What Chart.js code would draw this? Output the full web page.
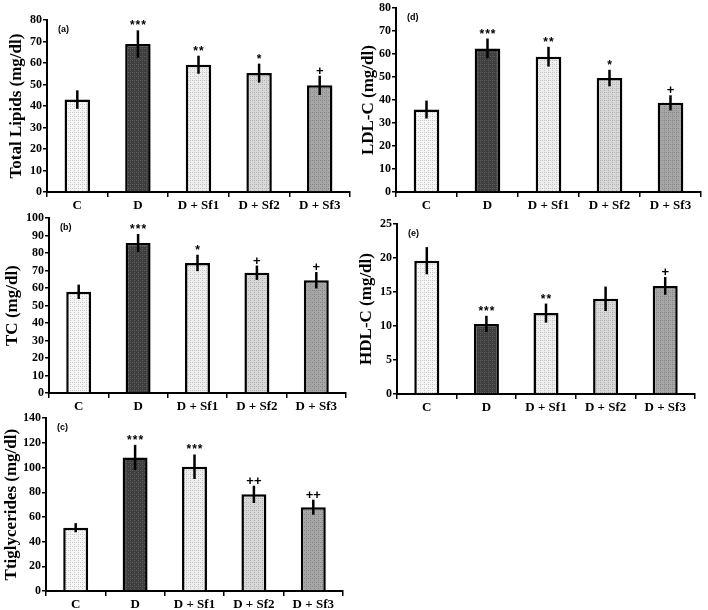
<!DOCTYPE html>
<html>
<head>
<meta charset="utf-8">
<script src="https://cdn.jsdelivr.net/npm/chart.js@4.4.1/dist/chart.umd.min.js"></script>
<style>
  html, body { margin: 0; padding: 0; background: #ffffff; }
  #wrap { position: relative; width: 708px; height: 610px; background: #ffffff; overflow: hidden; }
  canvas { position: absolute; }
</style>
</head>
<body>
<div id="wrap">
  <canvas id="pa"></canvas>
  <canvas id="pb"></canvas>
  <canvas id="pc"></canvas>
  <canvas id="pd"></canvas>
  <canvas id="pe"></canvas>
</div>
<script>
// ---------------- DATA ----------------
const categories = ['C', 'D', 'D + Sf1', 'D + Sf2', 'D + Sf3'];

const totalLipids      = [43, 68.8, 59.2, 55.3, 49.6];
const totalLipidsErr   = [4.3, 6.4, 4.2, 4.4, 4.5];
const totalLipidsSig   = ['', '***', '**', '*', '+'];

const tc               = [57.9, 85.8, 74.4, 68.8, 64.5];
const tcErr            = [4.1, 5.2, 4.7, 4.1, 4.7];
const tcSig            = ['', '***', '*', '+', '+'];

const triglycerides    = [51.3, 108.2, 100.7, 78.3, 67.9];
const triglyceridesErr = [3.7, 10.2, 9.9, 7.0, 6.1];
const triglyceridesSig = ['', '***', '***', '++', '++'];

const ldl              = [35.9, 62.5, 58.9, 49.6, 38.8];
const ldlErr           = [3.9, 4.3, 4.3, 3.6, 3.3];
const ldlSig           = ['', '***', '**', '*', '+'];

const hdl              = [19.6, 10.3, 11.9, 14.0, 15.9];
const hdlErr           = [2.0, 1.2, 1.4, 1.8, 1.3];
const hdlSig           = ['', '***', '**', '', '+'];

const yTitles  = ['Total Lipids (mg/dl)', 'TC (mg/dl)', 'Ttiglycerides (mg/dl)', 'LDL-C (mg/dl)', 'HDL-C (mg/dl)'];
const panelTags = ['(a)', '(b)', '(c)', '(d)', '(e)'];
const yMax  = [80, 100, 140, 80, 25];
const yStep = [10, 10, 20, 10, 5];

// ---------------- STYLE ----------------
function makePattern(base, dot) {
  const c = document.createElement('canvas');
  c.width = 4; c.height = 4;
  const x = c.getContext('2d');
  x.fillStyle = base; x.fillRect(0, 0, 4, 4);
  x.fillStyle = dot;
  x.fillRect(0, 0, 1, 1);
  x.fillRect(2, 2, 1, 1);
  x.fillRect(2, 0, 1, 1);
  return x.createPattern(c, 'repeat');
}
const fills = [
  makePattern('#f6f6f6', '#c9c9c9'),
  makePattern('#3e3e3e', '#5c5c5c'),
  makePattern('#eeeeee', '#c6c6c6'),
  makePattern('#d8d8d8', '#b2b2b2'),
  makePattern('#a6a6a6', '#878787')
];

const errorBarPlugin = {
  id: 'errbars',
  afterDatasetsDraw(chart) {
    const ctx = chart.ctx;
    const meta = chart.getDatasetMeta(0);
    const ds = chart.data.datasets[0];
    const ys = chart.scales.y;
    const ca = chart.chartArea;
    ctx.save();
    meta.data.forEach((bar, i) => {
      const v = ds.data[i], e = ds.err[i];
      const yTop = ys.getPixelForValue(v + e);
      const yBot = ys.getPixelForValue(v - e);
      ctx.strokeStyle = '#000';
      ctx.lineWidth = 2.5;
      ctx.beginPath();
      ctx.moveTo(bar.x, yTop);
      ctx.lineTo(bar.x, yBot);
      ctx.stroke();
      const s = ds.sig[i];
      if (s) {
        ctx.fillStyle = '#000';
        ctx.textAlign = 'center';
        ctx.textBaseline = 'alphabetic';
        if (s.indexOf('*') >= 0) {
          ctx.font = 'bold 12px "Liberation Sans", Arial, sans-serif';
          ctx.letterSpacing = '1px';
          ctx.fillText(s, bar.x + 0.5, yTop - 1);
        } else {
          ctx.font = 'bold 13px "Liberation Sans", Arial, sans-serif';
          ctx.letterSpacing = '0px';
          ctx.fillText(s, bar.x, yTop - 1);
        }
      }
    });
    ctx.letterSpacing = '0px';
    ctx.font = 'bold 9px "Liberation Sans", Arial, sans-serif';
    ctx.textAlign = 'left';
    ctx.textBaseline = 'top';
    ctx.fillStyle = '#000';
    ctx.fillText(chart.options.plugins.tag, ca.left + 11, ca.top + 5);
    ctx.restore();
  }
};

function makePanel(id, box, plot, idx, values, errs, sigs, titlePad) {
  const cv = document.getElementById(id);
  cv.width = box.w; cv.height = box.h;
  cv.style.left = box.x + 'px'; cv.style.top = box.y + 'px';
  cv.style.width = box.w + 'px'; cv.style.height = box.h + 'px';
  const yW = plot.l - box.x;
  const xH = box.y + box.h - plot.b;
  new Chart(cv, {
    type: 'bar',
    data: {
      labels: categories,
      datasets: [{
        data: values,
        err: errs,
        sig: sigs,
        backgroundColor: fills,
        borderColor: '#000',
        borderWidth: 2.5,
        borderSkipped: 'start',
        barPercentage: 0.42,
        categoryPercentage: 1
      }]
    },
    options: {
      responsive: false,
      animation: false,
      devicePixelRatio: 1,
      layout: { padding: { top: plot.t - box.y, right: box.x + box.w - plot.r, left: 0, bottom: 0 } },
      plugins: { legend: { display: false }, tooltip: { enabled: false }, tag: panelTags[idx] },
      scales: {
        x: {
          offset: true,
          grid: { display: true, offset: true, drawOnChartArea: false, drawTicks: true, tickLength: 5, color: '#000', lineWidth: 1.5 },
          border: { display: true, color: '#000', width: 2 },
          ticks: { color: '#000', padding: 1, font: { family: '"Liberation Serif", "Times New Roman", serif', weight: 'bold', size: 13 } },
          afterFit(s) { s.height = xH; }
        },
        y: {
          min: 0, max: yMax[idx],
          ticks: { stepSize: yStep[idx], color: '#000', padding: 1, font: { family: '"Liberation Serif", "Times New Roman", serif', weight: 'bold', size: 12 } },
          grid: { display: true, drawOnChartArea: false, drawTicks: true, tickLength: 4, color: '#000', lineWidth: 1.5 },
          border: { display: true, color: '#000', width: 2 },
          title: { display: true, text: yTitles[idx], color: '#000', padding: { top: titlePad, bottom: 0 }, font: { family: '"Liberation Serif", "Times New Roman", serif', weight: 'bold', size: 17 } },
          afterFit(s) { s.width = yW; }
        }
      }
    },
    plugins: [errorBarPlugin]
  });
}

makePanel('pa', {x: 0,   y: 0,   w: 354, h: 212}, {l: 47,  t: 20,  r: 350, b: 192}, 0, totalLipids,   totalLipidsErr,   totalLipidsSig,   6);
makePanel('pb', {x: 0,   y: 210, w: 354, h: 200}, {l: 49,  t: 215, r: 346, b: 393}, 1, tc,            tcErr,            tcSig,            2);
makePanel('pc', {x: 0,   y: 410, w: 354, h: 200}, {l: 46,  t: 416, r: 343, b: 591}, 2, triglycerides, triglyceridesErr, triglyceridesSig, 1);
makePanel('pd', {x: 354, y: 0,   w: 354, h: 212}, {l: 396, t: 7,   r: 701, b: 192}, 3, ldl,           ldlErr,           ldlSig,           4);
makePanel('pe', {x: 354, y: 212, w: 354, h: 200}, {l: 397, t: 224, r: 695, b: 394}, 4, hdl,           hdlErr,           hdlSig,           2);
</script>
</body>
</html>
